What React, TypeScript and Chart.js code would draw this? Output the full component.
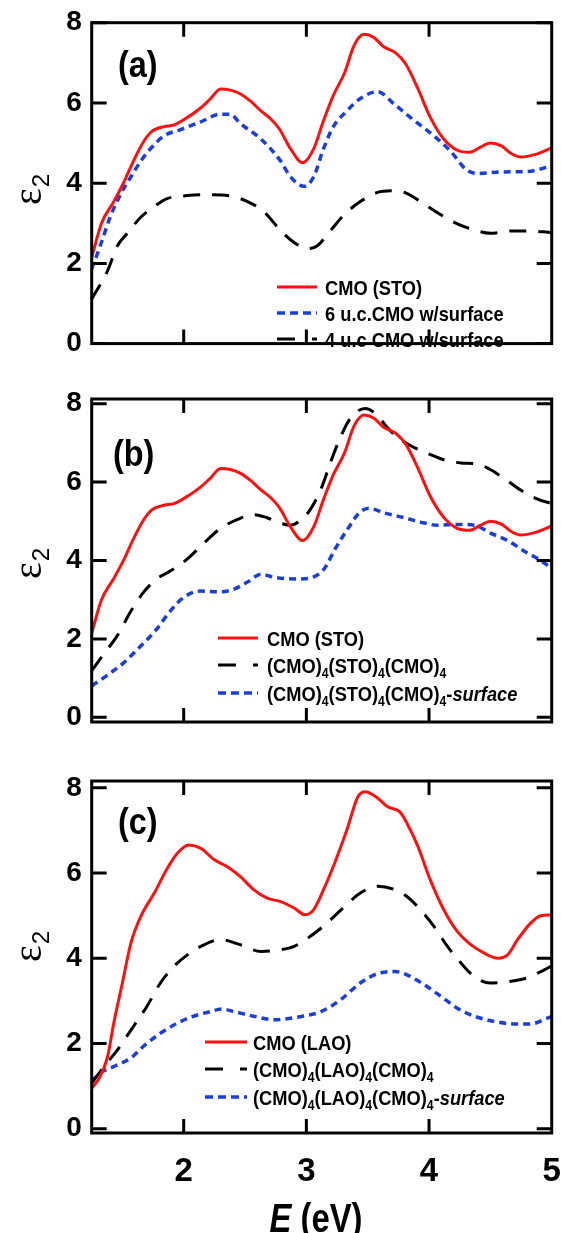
import React, { useEffect, useRef } from 'react';
import { Chart, registerables } from 'chart.js';

Chart.register(...registerables);

const SANS = '"Liberation Sans", Arial, "Noto Sans", sans-serif';
const RED = '#ff1010';
const BLUE = '#1c3ed8';
const BLACK = '#000000';

// ---- axes ----
const E_MIN = 1.25;
const E_MAX = 5.0;
const xTickVals = [2, 3, 4, 5];
const yTickVals = [0, 2, 4, 6, 8];

// ---- panel (a) / (b): CMO (STO) ----
const stoE = [1.25, 1.33, 1.43, 1.51, 1.59, 1.67, 1.74, 1.84, 1.92, 1.99, 2.14, 2.22, 2.30, 2.38, 2.46, 2.55, 2.63, 2.71, 2.78, 2.87, 2.97, 3.06, 3.14, 3.22, 3.31, 3.39, 3.47, 3.55, 3.63, 3.73, 3.81, 3.91, 4.01, 4.12, 4.23, 4.33, 4.42, 4.50, 4.59, 4.67, 4.75, 4.86, 5.00];
const stoV = [2.15, 3.00, 3.54, 4.01, 4.55, 5.02, 5.29, 5.41, 5.45, 5.56, 5.88, 6.11, 6.35, 6.32, 6.23, 6.03, 5.80, 5.60, 5.35, 4.86, 4.51, 4.86, 5.56, 6.19, 6.74, 7.44, 7.71, 7.63, 7.40, 7.24, 6.97, 6.35, 5.64, 5.10, 4.82, 4.77, 4.90, 5.00, 4.93, 4.74, 4.65, 4.71, 4.88];

// ---- panel (a): 6 u.c. CMO w/surface ----
const uc6E = [1.25, 1.32, 1.40, 1.48, 1.57, 1.65, 1.73, 1.84, 1.97, 2.14, 2.30, 2.38, 2.46, 2.63, 2.79, 2.87, 2.98, 3.06, 3.14, 3.22, 3.33, 3.44, 3.58, 3.72, 3.88, 4.04, 4.18, 4.31, 4.40, 4.59, 4.80, 5.00];
const uc6V = [1.86, 2.44, 3.15, 3.69, 4.16, 4.55, 4.86, 5.18, 5.33, 5.53, 5.72, 5.72, 5.49, 5.10, 4.55, 4.16, 3.92, 4.16, 4.86, 5.41, 5.80, 6.11, 6.28, 5.96, 5.56, 5.18, 4.78, 4.32, 4.24, 4.28, 4.29, 4.43];

// ---- panel (a): 4 u.c CMO w/surface ----
const uc4E = [1.25, 1.38, 1.46, 1.54, 1.65, 1.76, 1.86, 2.03, 2.19, 2.38, 2.52, 2.65, 2.79, 2.90, 3.01, 3.09, 3.20, 3.31, 3.44, 3.58, 3.69, 3.80, 3.93, 4.07, 4.20, 4.37, 4.50, 4.69, 4.80, 5.00];
const uc4V = [1.11, 1.82, 2.44, 2.75, 3.15, 3.42, 3.61, 3.69, 3.71, 3.68, 3.54, 3.30, 2.82, 2.52, 2.37, 2.44, 2.83, 3.22, 3.54, 3.77, 3.81, 3.77, 3.54, 3.26, 3.03, 2.83, 2.75, 2.81, 2.81, 2.77];

// ---- panel (b): (CMO)4(STO)4(CMO)4 ----
const slSTOE = [1.25, 1.35, 1.46, 1.57, 1.67, 1.78, 1.89, 2.03, 2.16, 2.30, 2.44, 2.57, 2.68, 2.79, 2.87, 2.95, 3.03, 3.12, 3.20, 3.28, 3.36, 3.48, 3.58, 3.66, 3.77, 3.88, 3.99, 4.12, 4.26, 4.40, 4.50, 4.64, 4.75, 4.86, 4.97, 5.00];
const slSTOV = [1.19, 1.62, 2.09, 2.71, 3.18, 3.53, 3.73, 4.04, 4.43, 4.82, 5.05, 5.17, 5.09, 4.95, 4.90, 5.02, 5.29, 5.83, 6.53, 7.16, 7.63, 7.88, 7.70, 7.39, 7.08, 6.88, 6.73, 6.57, 6.49, 6.46, 6.32, 6.03, 5.79, 5.60, 5.48, 5.47];

// ---- panel (b): (CMO)4(STO)4(CMO)4-surface ----
const slSTOsE = [1.25, 1.38, 1.51, 1.65, 1.78, 1.89, 2.00, 2.14, 2.30, 2.41, 2.52, 2.63, 2.74, 2.93, 3.05, 3.15, 3.23, 3.34, 3.43, 3.51, 3.64, 3.80, 3.93, 4.07, 4.23, 4.37, 4.50, 4.64, 4.78, 4.89, 5.00];
const slSTOsV = [0.80, 1.08, 1.39, 1.82, 2.25, 2.71, 3.06, 3.22, 3.20, 3.27, 3.45, 3.65, 3.57, 3.53, 3.57, 3.81, 4.27, 4.82, 5.21, 5.33, 5.21, 5.09, 4.98, 4.90, 4.92, 4.90, 4.70, 4.51, 4.23, 4.04, 3.80];

// ---- panel (c): CMO (LAO) ----
const laoE = [1.25, 1.32, 1.38, 1.43, 1.50, 1.57, 1.65, 1.76, 1.86, 1.95, 2.04, 2.14, 2.25, 2.35, 2.46, 2.57, 2.68, 2.79, 2.90, 2.99, 3.06, 3.14, 3.23, 3.33, 3.42, 3.48, 3.58, 3.66, 3.76, 3.82, 3.91, 4.01, 4.12, 4.23, 4.34, 4.45, 4.56, 4.64, 4.72, 4.83, 4.91, 5.00];
const laoV = [0.95, 1.23, 1.70, 2.48, 3.42, 4.36, 4.98, 5.53, 6.08, 6.47, 6.66, 6.58, 6.31, 6.16, 5.92, 5.61, 5.41, 5.33, 5.18, 5.02, 5.14, 5.61, 6.23, 7.01, 7.79, 7.91, 7.76, 7.56, 7.44, 7.17, 6.62, 5.84, 5.14, 4.63, 4.32, 4.12, 4.00, 4.08, 4.43, 4.83, 5.00, 5.02];

// ---- panel (c): (CMO)4(LAO)4(CMO)4 ----
const slLAOE = [1.25, 1.35, 1.46, 1.59, 1.70, 1.81, 1.92, 2.03, 2.14, 2.30, 2.46, 2.63, 2.79, 2.90, 3.03, 3.17, 3.31, 3.44, 3.58, 3.72, 3.82, 3.93, 4.04, 4.15, 4.26, 4.37, 4.50, 4.67, 4.80, 4.94, 5.00];
const slLAOV = [1.07, 1.46, 1.85, 2.40, 2.87, 3.42, 3.81, 4.08, 4.28, 4.44, 4.32, 4.16, 4.20, 4.28, 4.51, 4.83, 5.21, 5.53, 5.69, 5.61, 5.45, 5.14, 4.75, 4.28, 3.89, 3.57, 3.42, 3.46, 3.54, 3.73, 3.82];

// ---- panel (c): (CMO)4(LAO)4(CMO)4-surface ----
const slLAOsE = [1.25, 1.32, 1.43, 1.57, 1.67, 1.81, 1.95, 2.08, 2.22, 2.31, 2.41, 2.57, 2.74, 2.95, 3.12, 3.28, 3.44, 3.58, 3.72, 3.82, 3.96, 4.10, 4.23, 4.37, 4.53, 4.69, 4.83, 4.97, 5.00];
const slLAOsV = [1.11, 1.31, 1.46, 1.66, 1.93, 2.24, 2.48, 2.64, 2.75, 2.81, 2.75, 2.64, 2.56, 2.63, 2.75, 3.03, 3.42, 3.64, 3.69, 3.61, 3.38, 3.10, 2.83, 2.64, 2.52, 2.46, 2.46, 2.60, 2.63];

type Series = {
  label: string;
  rich: string;
  e: number[];
  v: number[];
  color: string;
  width: number;
  dash: number[];
  legendDash: number[];
};

const solid = (label: string, rich: string, e: number[], v: number[]): Series => ({ label, rich, e, v, color: RED, width: 3, dash: [], legendDash: [] });
const dotted = (label: string, rich: string, e: number[], v: number[]): Series => ({ label, rich, e, v, color: BLUE, width: 3.5, dash: [7, 5], legendDash: [8, 5] });
const longDash = (label: string, rich: string, e: number[], v: number[]): Series => ({ label, rich, e, v, color: BLACK, width: 3, dash: [17, 12], legendDash: [18, 17] });

const W = 561;

type PanelCfg = {
  key: string;
  top: number;
  height: number;
  areaTop: number;
  areaBottom: number;
  yMin: number;
  yMax: number;
  showX: boolean;
  tag: string;
  tagX: number;
  tagY: number;
  titleY: number;
  legX1: number;
  legX2: number;
  legTX: number;
  legRows: number[];
  series: Series[];
};

const panels: PanelCfg[] = [
  {
    key: 'a', top: 0, height: 385, areaTop: 22.7, areaBottom: 364.3, yMin: 0, yMax: 8, showX: false,
    tag: '(a)', tagX: 118, tagY: 77, titleY: 205,
    legX1: 277, legX2: 317, legTX: 325, legRows: [287, 313, 339],
    series: [
      solid('CMO (STO)', 'CMO (STO)', stoE, stoV),
      dotted('6 u.c.CMO w/surface', '6 u.c.CMO w/surface', uc6E, uc6V),
      longDash('4 u.c CMO w/surface', '4 u.c CMO w/surface', uc4E, uc4V),
    ],
  },
  {
    key: 'b', top: 360, height: 420, areaTop: 399, areaBottom: 751, yMin: -0.12, yMax: 8.12, showX: false,
    tag: '(b)', tagX: 113, tagY: 466, titleY: 579,
    legX1: 218, legX2: 258, legTX: 267, legRows: [638, 665, 693],
    series: [
      solid('CMO (STO)', 'CMO (STO)', stoE, stoV),
      longDash('(CMO)4(STO)4(CMO)4', '(CMO)_4(STO)_4(CMO)_4', slSTOE, slSTOV),
      dotted('(CMO)4(STO)4(CMO)4-surface', '(CMO)_4(STO)_4(CMO)_4-*surface*', slSTOsE, slSTOsV),
    ],
  },
  {
    key: 'c', top: 745, height: 488, areaTop: 781, areaBottom: 1133, yMin: -0.1, yMax: 8.16, showX: true,
    tag: '(c)', tagX: 118, tagY: 834, titleY: 962,
    legX1: 205, legX2: 247, legTX: 253, legRows: [1042, 1069, 1097],
    series: [
      solid('CMO (LAO)', 'CMO (LAO)', laoE, laoV),
      longDash('(CMO)4(LAO)4(CMO)4', '(CMO)_4(LAO)_4(CMO)_4', slLAOE, slLAOV),
      dotted('(CMO)4(LAO)4(CMO)4-surface', '(CMO)_4(LAO)_4(CMO)_4-*surface*', slLAOsE, slLAOsV),
    ],
  },
];

function richParts(text: string, size: number) {
  const parts = text.split(/(_\d|\*[^*]+\*)/).filter((s) => s.length > 0);
  return parts.map((p) => {
    if (p.startsWith('_')) return { str: p.slice(1), font: `bold ${Math.round(size * 0.66)}px ${SANS}`, dy: size * 0.28 };
    if (p.startsWith('*')) return { str: p.slice(1, -1), font: `italic bold ${size}px ${SANS}`, dy: 0 };
    return { str: p, font: `bold ${size}px ${SANS}`, dy: 0 };
  });
}

// draws mixed-style text, horizontally condensed by sx (the original uses a narrow face)
function drawRich(ctx: CanvasRenderingContext2D, text: string, x: number, baseY: number, size: number, sx: number, center = false) {
  const parts = richParts(text, size);
  let total = 0;
  for (const p of parts) {
    ctx.font = p.font;
    total += ctx.measureText(p.str).width;
  }
  ctx.save();
  ctx.translate(center ? x - (total * sx) / 2 : x, baseY);
  ctx.scale(sx, 1);
  ctx.textAlign = 'left';
  ctx.textBaseline = 'alphabetic';
  let cx = 0;
  for (const p of parts) {
    ctx.font = p.font;
    ctx.fillText(p.str, cx, p.dy);
    cx += ctx.measureText(p.str).width;
  }
  ctx.restore();
}

function buildConfig(p: PanelCfg): any {
  const frame = {
    id: 'frame_' + p.key,
    afterDraw(chart: any) {
      const ctx: CanvasRenderingContext2D = chart.ctx;
      const { left, right, top, bottom } = chart.chartArea;
      const xs = chart.scales.x;
      const ys = chart.scales.y;
      ctx.save();
      ctx.strokeStyle = '#000';
      ctx.lineWidth = 3;
      ctx.setLineDash([]);
      ctx.strokeRect(left, top, right - left, bottom - top);
      ctx.beginPath();
      for (const v of yTickVals) {
        const py = ys.getPixelForValue(v);
        ctx.moveTo(left, py);
        ctx.lineTo(left + 15, py);
        ctx.moveTo(right, py);
        ctx.lineTo(right - 15, py);
      }
      for (const v of xTickVals) {
        if (v >= E_MAX) continue;
        const px = xs.getPixelForValue(v);
        ctx.moveTo(px, bottom);
        ctx.lineTo(px, bottom - 14);
        ctx.moveTo(px, top);
        ctx.lineTo(px, top + 14);
      }
      ctx.stroke();

      // legend
      const oy = p.top;
      p.series.forEach((s, i) => {
        const ry = p.legRows[i] - oy;
        ctx.strokeStyle = s.color;
        ctx.lineWidth = s.width;
        ctx.setLineDash(s.legendDash);
        ctx.beginPath();
        ctx.moveTo(p.legX1, ry);
        ctx.lineTo(p.legX2, ry);
        ctx.stroke();
        ctx.setLineDash([]);
        ctx.fillStyle = '#000';
        drawRich(ctx, s.rich, p.legTX, ry + 7.5, 21, 0.87);
      });

      // panel tag
      ctx.fillStyle = '#000';
      drawRich(ctx, p.tag, p.tagX, p.tagY - oy, 36, 0.9);

      // y-axis title  ε2 (rotated)
      ctx.save();
      ctx.translate(41, p.titleY - oy);
      ctx.rotate(-Math.PI / 2);
      ctx.font = `40px "Liberation Serif", "DejaVu Serif", serif`;
      ctx.fillText('ε', 0, 0);
      const ew = ctx.measureText('ε').width;
      ctx.font = `24px ${SANS}`;
      ctx.fillText('2', ew + 1, 8);
      ctx.restore();

      // x-axis title
      if (p.showX) {
        drawRich(ctx, '*E* (eV)', 316, 1232 - oy, 40, 0.82, true);
      }
      ctx.restore();
    },
  };

  return {
    type: 'line',
    data: {
      datasets: p.series.map((s) => ({
        label: s.label,
        data: s.e.map((x, i) => ({ x, y: s.v[i] })),
        borderColor: s.color,
        backgroundColor: s.color,
        borderWidth: s.width,
        borderDash: s.dash,
        pointRadius: 0,
        fill: false,
        cubicInterpolationMode: 'monotone',
      })),
    },
    options: {
      animation: false,
      responsive: false,
      maintainAspectRatio: false,
      events: [],
      layout: {
        padding: {
          left: 0,
          right: W - 551.7,
          top: p.areaTop - p.top,
          bottom: p.showX ? 0 : p.top + p.height - p.areaBottom,
        },
      },
      plugins: { legend: { display: false }, tooltip: { enabled: false } },
      scales: {
        x: {
          type: 'linear',
          min: E_MIN,
          max: E_MAX,
          display: p.showX,
          grid: { display: false, drawTicks: false },
          border: { display: false },
          afterBuildTicks: (s: any) => {
            s.ticks = xTickVals.map((v) => ({ value: v }));
          },
          afterFit: (s: any) => {
            s.height = p.top + p.height - p.areaBottom;
            s.paddingLeft = 0;
            s.paddingRight = 0;
          },
          ticks: {
            color: '#000',
            padding: 19,
            maxRotation: 0,
            autoSkip: false,
            font: { family: SANS, size: 33, weight: 'bold' },
            callback: (v: any) => String(v),
          },
        },
        y: {
          type: 'linear',
          min: p.yMin,
          max: p.yMax,
          grid: { display: false, drawTicks: false },
          border: { display: false },
          afterBuildTicks: (s: any) => {
            s.ticks = yTickVals.map((v) => ({ value: v }));
          },
          afterFit: (s: any) => {
            s.width = 91.7;
            s.paddingTop = 0;
            s.paddingBottom = 0;
          },
          ticks: {
            color: '#000',
            padding: 10,
            font: { family: SANS, size: 28, weight: 'bold' },
            callback: (v: any) => String(v),
          },
        },
      },
    },
    plugins: [frame],
  };
}

function Panel({ cfg }: { cfg: PanelCfg }) {
  const ref = useRef<HTMLCanvasElement | null>(null);
  useEffect(() => {
    if (!ref.current) return;
    const chart = new Chart(ref.current, buildConfig(cfg));
    return () => chart.destroy();
  }, [cfg]);
  return (
    <canvas
      ref={ref}
      width={W}
      height={cfg.height}
      style={{ position: 'absolute', left: 0, top: cfg.top, width: W, height: cfg.height }}
    />
  );
}

export default function App() {
  return (
    <div style={{ position: 'absolute', left: 0, top: 0, width: W, height: 1233, background: '#fff', overflow: 'hidden' }}>
      {panels.map((p) => (
        <Panel key={p.key} cfg={p} />
      ))}
    </div>
  );
}
